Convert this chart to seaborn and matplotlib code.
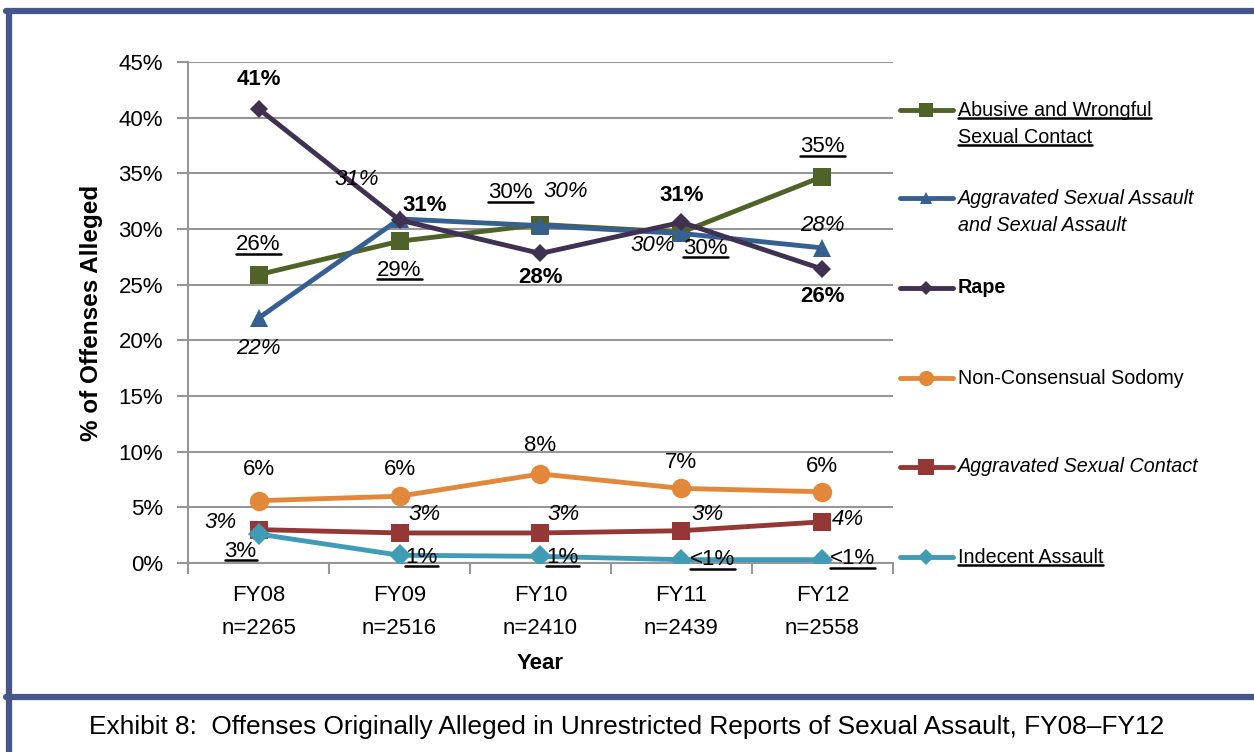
import matplotlib
matplotlib.use('Agg')
import matplotlib.pyplot as plt
import numpy as np
import pandas as pd
import seaborn as sns
from matplotlib.lines import Line2D
from matplotlib.ticker import FixedLocator, FuncFormatter

years = ['FY08', 'FY09', 'FY10', 'FY11', 'FY12']
n_reports = [2265, 2516, 2410, 2439, 2558]

abusive = [25.9, 28.9, 30.4, 29.7, 34.7]
agg_sexual_assault = [22.0, 30.9, 30.3, 29.6, 28.3]
rape = [40.8, 30.8, 27.8, 30.6, 26.4]
sodomy = [5.6, 6.0, 8.0, 6.7, 6.4]
agg_sexual_contact = [3.0, 2.7, 2.7, 2.9, 3.7]
indecent = [2.6, 0.7, 0.6, 0.3, 0.3]

offense_names = ['Abusive and Wrongful\nSexual Contact',
                 'Aggravated Sexual Assault\nand Sexual Assault',
                 'Rape',
                 'Non-Consensual Sodomy',
                 'Aggravated Sexual Contact',
                 'Indecent Assault']
offense_values = [abusive, agg_sexual_assault, rape, sodomy, agg_sexual_contact, indecent]

df = pd.DataFrame({
    'year': years * len(offense_names),
    'offense': np.repeat(offense_names, len(years)),
    'pct': np.concatenate(offense_values),
})

# styling for each series
colors = ['#4f6228', '#376092', '#403152', '#e3883b', '#953735', '#3f9bb6']
markers = ['s', '^', 'D', 'o', 's', 'D']
marker_sizes = [13, 13, 9.5, 14, 13, 11]
legend_marker_sizes = [10, 9, 7, 11, 11, 8]
text_styles = ['underline', 'italic', 'bold', 'normal', 'italic', 'underline']

# label offsets in pixels (dx, dy) for each point
label_offsets = [
    [(0, 30), (0, -29), (-30, 32), (24, -16), (0, 30)],
    [(0, -30), (-43, 39), (25, 34), (-29, -12), (0, 22)],
    [(0, 29), (25, 15), (0, -24), (0, 27), (0, -27)],
    [(0, 31), (0, 27), (0, 28), (0, 26), (0, 25)],
    [(-38, 7), (25, 18), (23, 18), (26, 16), (26, 2)],
    [(-18, -17), (22, -2), (22, -1), (31, 0), (30, 1)],
]
legend_y = [0.904, 0.728, 0.549, 0.369, 0.192, 0.012]

sns.set_theme(style='white')
plt.rcParams['font.family'] = ['Liberation Sans', 'DejaVu Sans']

fig = plt.figure(figsize=(12.54, 7.52), dpi=100)
ax = fig.add_axes([0.150, 0.2513, 0.562, 0.6663])

grid_col = '#969696'
underline_these = []


def style_kw(style):
    if style == 'bold':
        return {'fontweight': 'bold'}
    if style == 'italic':
        return {'fontstyle': 'italic'}
    return {}


def pct_label(v):
    if v < 0.5:
        return '<1%'
    return f'{round(v):.0f}%'


for i, name in enumerate(offense_names):
    sub = df[df['offense'] == name]
    sns.lineplot(data=sub, x='year', y='pct', ax=ax, color=colors[i],
                 marker=markers[i], markersize=marker_sizes[i],
                 markeredgewidth=0, linewidth=3.5, legend=False, zorder=3 + i)
    for j, v in enumerate(sub['pct']):
        dx, dy = label_offsets[i][j]
        t = ax.annotate(pct_label(v), (j, v), xytext=(dx, dy),
                        textcoords='offset pixels', ha='center', va='center',
                        fontsize=16, color='black', zorder=20,
                        **style_kw(text_styles[i]))
        if text_styles[i] == 'underline':
            underline_these.append(t)

    # hand-made legend entry to the right of the plot
    ax.add_line(Line2D([1.010, 1.085], [legend_y[i]] * 2, transform=ax.transAxes,
                       color=colors[i], lw=3.5, clip_on=False, solid_capstyle='round'))
    ax.add_line(Line2D([1.0475], [legend_y[i]], transform=ax.transAxes,
                       color=colors[i], marker=markers[i], markersize=legend_marker_sizes[i],
                       markeredgewidth=0, linestyle='none', clip_on=False))
    for k, line in enumerate(name.split('\n')):
        t = ax.text(1.092, legend_y[i] - k * 0.054, line, transform=ax.transAxes,
                    ha='left', va='center', fontsize=14.2, color='black',
                    **style_kw(text_styles[i]))
        if text_styles[i] == 'underline':
            underline_these.append(t)

# axes cosmetics
ax.set_ylim(0, 45)
ax.set_xlim(-0.5, 4.5)
ax.yaxis.set_major_locator(FixedLocator(np.arange(0, 46, 5)))
ax.yaxis.set_major_formatter(FuncFormatter(lambda v, _: f'{v:.0f}%'))
ax.grid(axis='y', color=grid_col, linewidth=1.5)
ax.grid(axis='x', visible=False)
ax.set_axisbelow(True)
ax.set_xticks(range(len(years)))
ax.set_xticklabels([f'{y}\nn={n}' for y, n in zip(years, n_reports)], linespacing=1.75)
ax.xaxis.set_minor_locator(FixedLocator(np.arange(-0.5, 4.6, 1)))
ax.tick_params(axis='x', which='major', length=0, pad=16, labelsize=16, labelcolor='black')
ax.tick_params(axis='x', which='minor', length=8, width=1.5, color=grid_col, direction='out', bottom=True)
ax.tick_params(axis='y', length=8, width=1.5, color=grid_col, direction='out', left=True,
               pad=10, labelsize=16, labelcolor='black')
for side in ['top', 'right']:
    ax.spines[side].set_visible(False)
for side in ['left', 'bottom']:
    ax.spines[side].set_color(grid_col)
    ax.spines[side].set_linewidth(1.5)

ax.set_xlabel('Year', fontsize=16, fontweight='bold', color='black', labelpad=10)
ax.set_ylabel('% of Offenses Alleged', fontsize=17.5, fontweight='bold', color='black', labelpad=11)

# exhibit frame and caption
frame_col = '#465689'
fig.add_artist(Line2D([0.0072, 0.0072], [0.0, 0.9854], transform=fig.transFigure, color=frame_col, lw=4.5))
fig.add_artist(Line2D([0.0048, 1.0], [0.9854, 0.9854], transform=fig.transFigure, color=frame_col, lw=4.5))
fig.add_artist(Line2D([0.0048, 1.0], [0.0731, 0.0731], transform=fig.transFigure, color=frame_col, lw=4.5))
fig.text(0.5, 0.033, 'Exhibit 8:  Offenses Originally Alleged in Unrestricted Reports of Sexual Assault, FY08\u2013FY12',
         ha='center', va='center', fontsize=18.9, color='black')

# underline the texts that are underlined in the exhibit
fig.canvas.draw()
renderer = fig.canvas.get_renderer()
inv = fig.transFigure.inverted()
for t in underline_these:
    bb = t.get_window_extent(renderer)
    x0, y0 = inv.transform((bb.x0, bb.y0 + 1.5))
    x1, _ = inv.transform((bb.x1, bb.y0 + 1.5))
    fig.add_artist(Line2D([x0, x1], [y0, y0], transform=fig.transFigure, color='black', lw=1.8))

fig.savefig('out.png', dpi=100)
